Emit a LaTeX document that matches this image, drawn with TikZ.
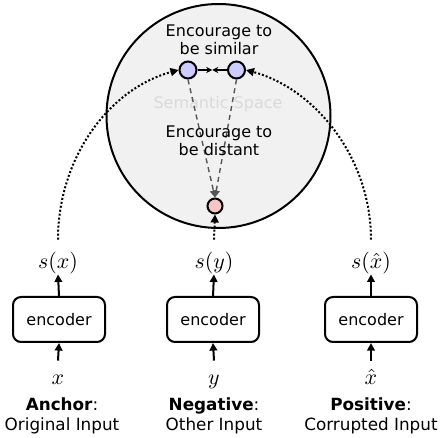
\documentclass[tikz,border=0pt]{standalone}
\usepackage{fontspec}
\setmainfont{DejaVu Sans}
\usetikzlibrary{arrows.meta}
\definecolor{spacefill}{HTML}{F1F1F1}
\definecolor{semgray}{HTML}{DADADA}
\definecolor{bluefill}{HTML}{CCCCFF}
\definecolor{pinkfill}{HTML}{F5C6C4}
\definecolor{dashgray}{HTML}{555555}
\begin{document}
\begin{tikzpicture}[x=0.5pt,y=-0.5pt,
  font=\fontsize{8}{9}\selectfont,
  encbox/.style={draw, line width=1pt, rounded corners=4pt, minimum width=46pt, minimum height=22.5pt, inner sep=0},
  svec/.style={inner sep=0, text height=7.5pt, text depth=2.5pt, font=\fontsize{10.5}{12}\selectfont},
  inp/.style={inner xsep=0, inner ysep=5pt, text height=7pt, text depth=2pt, anchor=base, font=\fontsize{10.5}{12}\selectfont},
  lbl/.style={align=center, font=\fontsize{8.4}{10}\selectfont},
  enc/.style={align=center, font=\fontsize{8}{9}\selectfont},
  emb/.style={circle, draw, line width=1pt, inner sep=0, minimum size=8.5pt},
  arr/.style={line width=1pt, -{Triangle[length=3.8pt,width=3.8pt]}},
  dotline/.style={line width=1pt, dash pattern=on 1pt off 1pt, -{Triangle[length=4pt,width=4pt]}},
  dashline/.style={dashgray, line width=0.7pt, dash pattern=on 2.5pt off 2pt, -{Triangle[length=3.5pt,width=3.5pt]}},
  tinyarr/.style={line width=1pt, -{Stealth[length=3pt,width=3pt]}}
]
\useasboundingbox (0,0) rectangle (440,438);

% semantic space
\node[circle, draw, line width=1pt, fill=spacefill, minimum size=112pt, inner sep=0] (space) at (218.5,116) {};
\node[text=semgray] (sem) at (218,104) {Semantic Space};

% embeddings
\node[emb, fill=bluefill] (b1) at (188,70) {};
\node[emb, fill=bluefill] (b2) at (236.5,70) {};
\node[emb, fill=pinkfill, minimum size=7.5pt] (ng) at (215,206) {};

% dashed "distant" arrows
\draw[dashline] (b1.south) -- (ng.north);
\draw[dashline] (b2.south) -- (ng.north);

\node[enc] (sim) at (219,40) {Encourage to\\be similar};
\node[enc] (dis) at (219,141) {Encourage to\\be distant};

% similar arrows
\path (b1.east) -- (b2.west) coordinate[pos=0.5] (mid);
\draw[tinyarr] (b1.east) -- (mid);
\draw[tinyarr] (b2.west) -- (mid);

% columns
\node[svec] (s1) at (58,264) {$s(x)$};
\node[svec] (s2) at (214,264) {$s(y)$};
\node[svec] (s3) at (371,264) {$s(\hat{x})$};

\node[encbox] (e1) at (59,319.5) {encoder};
\node[encbox] (e2) at (213,319.5) {encoder};
\node[encbox] (e3) at (371,319.5) {encoder};

\node[inp] (x1) at (58,385) {$x$};
\node[inp] (x2) at (214,385) {$y$};
\node[inp] (x3) at (371,385) {$\hat{x}$};

\node[lbl] (l1) at (62,416) {\textbf{Anchor}:\\Original Input};
\node[lbl] (l2) at (214,416) {\textbf{Negative}:\\Other Input};
\node[lbl] (l3) at (371,416) {\textbf{Positive}:\\Corrupted Input};

\draw[arr] (x1.north) -- (e1.south);
\draw[arr] (x2.north) -- (e2.south);
\draw[arr] (x3.north) -- (e3.south);
\draw[arr] (e1.north) -- (s1.south);
\draw[arr] (e2.north) -- (s2.south);
\draw[arr] (e3.north) -- (s3.south);

% dotted connectors into the semantic space
\draw[dotline] ([yshift=7pt]s1.north) .. controls +(0,-81) and +(-70,19) .. (b1.west);
\draw[dotline] ([yshift=7pt]s2.north) -- (ng.south);
\draw[dotline] ([yshift=7pt]s3.north) .. controls +(0,-81) and +(70,19) .. (b2.east);
\end{tikzpicture}
\end{document}
